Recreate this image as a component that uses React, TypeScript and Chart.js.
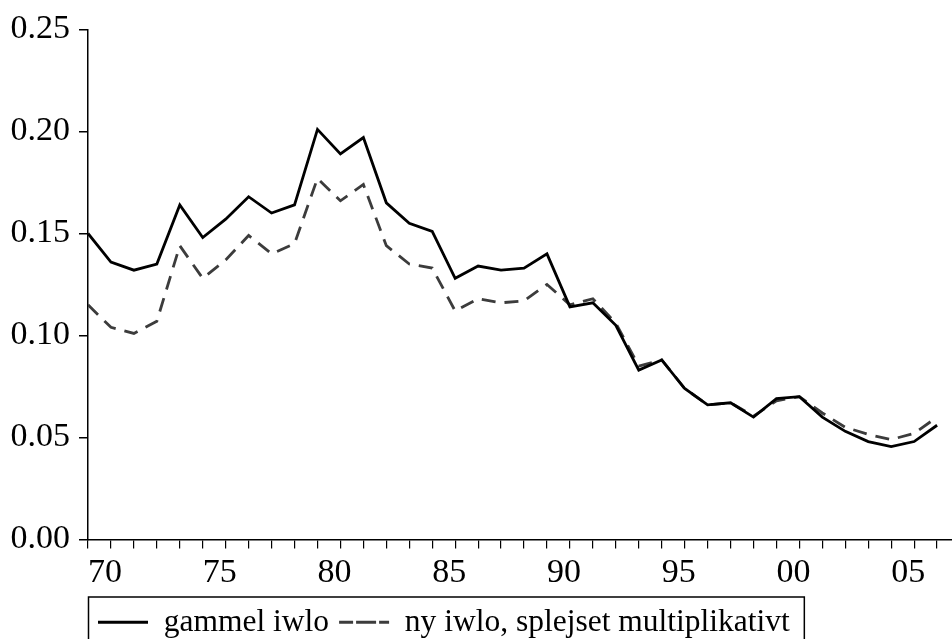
import { useEffect, useRef } from 'react';
import { Chart, registerables } from 'chart.js';

Chart.register(...registerables);

const years = [
  1969, 1970, 1971, 1972, 1973, 1974, 1975, 1976, 1977, 1978,
  1979, 1980, 1981, 1982, 1983, 1984, 1985, 1986, 1987, 1988,
  1989, 1990, 1991, 1992, 1993, 1994, 1995, 1996, 1997, 1998,
  1999, 2000, 2001, 2002, 2003, 2004, 2005, 2006,
];

const gammelIwlo = [
  0.150, 0.136, 0.132, 0.135, 0.164, 0.148, 0.157, 0.168, 0.160, 0.164,
  0.201, 0.189, 0.197, 0.165, 0.155, 0.151, 0.128, 0.134, 0.132, 0.133,
  0.140, 0.114, 0.116, 0.105, 0.083, 0.088, 0.074, 0.066, 0.067, 0.060,
  0.069, 0.070, 0.060, 0.053, 0.048, 0.0455, 0.048, 0.056,
];

const nyIwlo = [
  0.115, 0.104, 0.101, 0.107, 0.144, 0.128, 0.137, 0.149, 0.140, 0.145,
  0.177, 0.166, 0.174, 0.144, 0.135, 0.133, 0.112, 0.118, 0.116, 0.117,
  0.125, 0.115, 0.118, 0.106, 0.085, 0.088, 0.074, 0.066, 0.067, 0.0605,
  0.068, 0.070, 0.062, 0.055, 0.0515, 0.049, 0.052, 0.060,
];

const seriesNames = ['gammel iwlo', 'ny iwlo, splejset multiplikativt'];

const xTickYears = [1970, 1975, 1980, 1985, 1990, 1995, 2000, 2005];
const xTickLabels = ['70', '75', '80', '85', '90', '95', '00', '05'];

const yTickLabels = ['0.00', '0.05', '0.10', '0.15', '0.20', '0.25'];

const FONT = '"Liberation Serif", "Times New Roman", serif';

const legendBorder = {
  id: 'legendBorder',
  afterDraw(chart: any) {
    const lg = chart.legend;
    if (!lg || !lg.legendHitBoxes || !lg.legendHitBoxes.length) return;
    const boxes = lg.legendHitBoxes;
    const last = boxes[boxes.length - 1];
    const ctx = chart.ctx;
    ctx.save();
    ctx.strokeStyle = '#000';
    ctx.lineWidth = 1.5;
    ctx.setLineDash([]);
    const right = last.left + last.width + 14;
    ctx.strokeRect(lg.left + 0.5, lg.top + 0.5, right - lg.left, lg.height + 20);
    ctx.restore();
  },
};

export default function App() {
  const ref = useRef<HTMLCanvasElement | null>(null);

  useEffect(() => {
    if (!ref.current) return;
    const chart = new Chart(ref.current, {
      type: 'line',
      data: {
        datasets: [
          {
            label: seriesNames[0],
            data: years.map((y, i) => ({ x: y, y: gammelIwlo[i] })),
            borderColor: '#000000',
            backgroundColor: '#000000',
            borderWidth: 2.8,
            pointRadius: 0,
            tension: 0,
          },
          {
            label: seriesNames[1],
            data: years.map((y, i) => ({ x: y, y: nyIwlo[i] })),
            borderColor: '#3c3c3c',
            backgroundColor: '#3c3c3c',
            borderWidth: 2.8,
            borderDash: [14, 9],
            pointRadius: 0,
            tension: 0,
          },
        ],
      },
      options: {
        responsive: false,
        animation: false,
        layout: { padding: { top: 27, right: 0, left: 0, bottom: 0 } },
        plugins: {
          tooltip: { enabled: false },
          legend: {
            position: 'bottom',
            align: 'start',
            fullSize: false,
            labels: {
              boxWidth: 50,
              boxHeight: 0,
              padding: 10,
              color: '#000',
              font: { family: FONT, size: 31.5 },
            },
          },
        },
        scales: {
          x: {
            type: 'linear',
            min: 1969,
            max: 2006.65,
            afterFit: (s: any) => { s.height = 57; },
            border: { display: true, color: '#000', width: 1.5 },
            grid: { drawOnChartArea: false, drawTicks: true, tickLength: 9, color: '#000', lineWidth: 1.2 },
            ticks: {
              stepSize: 1,
              includeBounds: false,
              autoSkip: false,
              maxRotation: 0,
              minRotation: 0,
              labelOffset: -6,
              padding: 4,
              color: '#000',
              font: { family: FONT, size: 34 },
              callback: (v: any) => {
                const i = xTickYears.indexOf(Math.round(Number(v)));
                return i >= 0 && Math.abs(Number(v) - xTickYears[i]) < 1e-6 ? xTickLabels[i] : '';
              },
            },
          },
          y: {
            min: 0,
            max: 0.25,
            afterFit: (s: any) => { s.width = 88; },
            border: { display: true, color: '#000', width: 1.5 },
            grid: { drawOnChartArea: false, drawTicks: true, tickLength: 9, color: '#000', lineWidth: 1.5 },
            ticks: {
              stepSize: 0.05,
              padding: 9,
              color: '#000',
              font: { family: FONT, size: 34 },
              callback: (v: any) => {
                const i = Math.round(Number(v) / 0.05);
                return yTickLabels[i] ?? '';
              },
            },
          },
        },
      },
      plugins: [legendBorder],
    });
    return () => chart.destroy();
  }, []);

  return (
    <div style={{ position: 'fixed', left: 0, top: 0, width: 952, height: 648, background: '#fff' }}>
      <canvas ref={ref} width={952} height={648} />
    </div>
  );
}
